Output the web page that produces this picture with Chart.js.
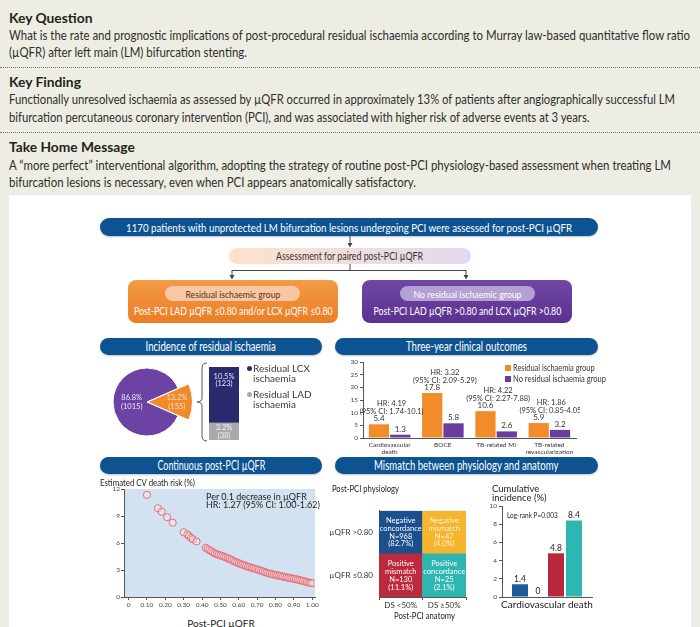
<!DOCTYPE html>
<html>
<head>
<meta charset="utf-8">
<title>Residual ischaemia after LM bifurcation PCI</title>
<script src="https://cdn.jsdelivr.net/npm/chart.js@4.4.1/dist/chart.umd.min.js"></script>
<style>
  body { margin: 0; background: #eeede3; font-family: Lato, "Open Sans", sans-serif; color: #231f20; }
  #page { position: relative; width: 700px; height: 627px; overflow: hidden; }
  .t { position: absolute; white-space: nowrap; }
  .t span { display: inline-block; transform-origin: left center; }
  .c, .pill, .box { display: flex; justify-content: center; align-items: center; white-space: nowrap; }
  .c span, .pill span, .box span { display: inline-block; flex: none; transform-origin: center center; }
  .head { font-weight: bold; font-size: 14px; line-height: 18px; left: 9px; }
  .body { font-size: 12.5px; line-height: 16px; left: 9px; color: #2d2d2d; }
  .dots { position: absolute; left: 0; width: 700px; height: 0; border-top: 1px dotted #707070; }
  #panel { position: absolute; left: 9px; top: 195px; width: 682px; height: 440px; background: #fff; }
  .pill { position: absolute; background: #0e5391; color: #fff; border-radius: 9px; box-shadow: 0 1px 2px rgba(0,0,0,0.25); }
  .box { position: absolute; border-radius: 8px; color: #fff; }
  canvas { position: absolute; }
  svg { position: absolute; left: 0; top: 0; }
  .small { font-size: 10px; color: #3a3a3a; line-height: 10px; }
  .dot { position: absolute; width: 5px; height: 5px; border-radius: 50%; }
  .sq { position: absolute; width: 6px; height: 6px; }
</style>
</head>
<body>
<div id="page">
  <div class="t head" style="top:9px"><span data-w="83">Key Question</span></div>
  <div class="t body" style="top:28px"><span id="q1" data-w="681">What is the rate and prognostic implications of post-procedural residual ischaemia according to Murray law-based quantitative flow ratio</span></div>
  <div class="t body" style="top:45px"><span data-ref="q1">(µQFR) after left main (LM) bifurcation stenting.</span></div>
  <div class="dots" style="top:67px"></div>
  <div class="t head" style="top:73px"><span data-w="72">Key Finding</span></div>
  <div class="t body" style="top:92px"><span id="f1" data-w="666">Functionally unresolved ischaemia as assessed by µQFR occurred in approximately 13% of patients after angiographically successful LM</span></div>
  <div class="t body" style="top:110px"><span data-ref="f1">bifurcation percutaneous coronary intervention (PCI), and was associated with higher risk of adverse events at 3 years.</span></div>
  <div class="dots" style="top:132px"></div>
  <div class="t head" style="top:138px"><span data-w="126">Take Home Message</span></div>
  <div class="t body" style="top:158px"><span id="h1" data-w="662">A “more perfect” interventional algorithm, adopting the strategy of routine post-PCI physiology-based assessment when treating LM</span></div>
  <div class="t body" style="top:175px"><span data-ref="h1">bifurcation lesions is necessary, even when PCI appears anatomically satisfactory.</span></div>

  <div id="panel"></div>

  <svg width="700" height="627">
    <g stroke="#444" stroke-width="1" fill="none">
      <line x1="350" y1="236" x2="350" y2="244"/>
      <line x1="350" y1="264" x2="350" y2="270"/>
      <line x1="232" y1="270.5" x2="466" y2="270.5"/>
      <line x1="232" y1="270" x2="232" y2="276"/>
      <line x1="466" y1="270" x2="466" y2="276"/>
      <path d="M207,363 Q202,363 202,368 L202,398 Q202,402 197,402 Q202,402 202,406 L202,436 Q202,441 207,441" stroke="#555"/>
    </g>
    <g fill="#444">
      <polygon points="347.5,243 352.5,243 350,247.5"/>
      <polygon points="229.5,275 234.5,275 232,279.5"/>
      <polygon points="463.5,275 468.5,275 466,279.5"/>
    </g>
  </svg>

  <div class="pill" style="left:100px;top:218px;width:498px;height:18px;font-size:11.5px"><span data-w="446">1170 patients with unprotected LM bifurcation lesions undergoing PCI were assessed for post-PCI µQFR</span></div>
  <div class="box" style="left:229px;top:248px;width:242px;height:16px;font-size:10.5px;color:#333;background:linear-gradient(90deg,#fde2cd,#e3d8ed)"><span data-w="147">Assessment for paired post-PCI µQFR</span></div>

  <div class="box" style="left:128px;top:280px;width:210px;height:43px;background:linear-gradient(#f39b46,#ec7d24)"></div>
  <div class="box" style="left:165px;top:286px;width:135px;height:15px;font-size:10px;color:#4e321e;background:#f9c8a2"><span data-w="95">Residual ischaemic group</span></div>
  <div class="t c" style="left:128px;width:210px;top:304px;height:14px;font-size:10.5px;color:#fff"><span data-w="199">Post-PCI LAD µQFR ≤0.80 and/or LCX µQFR ≤0.80</span></div>

  <div class="box" style="left:362px;top:280px;width:210px;height:43px;background:linear-gradient(#7046a6,#5b3190)"></div>
  <div class="box" style="left:400px;top:286px;width:135px;height:15px;font-size:10px;color:#fff;background:#b5a0d4"><span data-w="108">No residual ischaemic group</span></div>
  <div class="t c" style="left:362px;width:210px;top:304px;height:14px;font-size:10.5px;color:#fff"><span data-w="188">Post-PCI LAD µQFR &gt;0.80 and LCX µQFR &gt;0.80</span></div>

  <div class="pill" style="left:100px;top:338px;width:222px;height:17px;font-size:12.5px"><span data-w="130">Incidence of residual ischaemia</span></div>
  <div class="pill" style="left:335px;top:338px;width:263px;height:17px;font-size:12.5px"><span data-w="121">Three-year clinical outcomes</span></div>
  <div class="pill" style="left:100px;top:457px;width:222px;height:17px;font-size:12.5px"><span data-w="108">Continuous post-PCI µQFR</span></div>
  <div class="pill" style="left:335px;top:457px;width:263px;height:17px;font-size:12.5px"><span data-w="184">Mismatch between physiology and anatomy</span></div>

  <canvas id="pieChart" width="114" height="114" style="left:90px;top:345px"></canvas>
  <canvas id="siteChart" width="50" height="82" style="left:195px;top:362px"></canvas>
  <canvas id="outcomeChart" width="240" height="104" style="left:340px;top:356px"></canvas>
  <canvas id="riskChart" width="215" height="126" style="left:105px;top:484px"></canvas>
  <canvas id="matrixChart" width="142" height="112" style="left:328px;top:500px"></canvas>
  <canvas id="cumChart" width="121" height="115" style="left:479px;top:500px"></canvas>

  <!-- legends and axis titles -->
  <div class="dot" style="left:246.5px;top:365.5px;background:#2c2a6e"></div>
  <div class="t small" style="left:253px;top:363px">Residual LCX<br>ischaemia</div>
  <div class="dot" style="left:246.5px;top:391.5px;background:#a9a9ae"></div>
  <div class="t small" style="left:253px;top:389px">Residual LAD<br>ischaemia</div>

  <div class="sq" style="left:505px;top:365px;background:#f28b2a"></div>
  <div class="t" style="left:513px;top:362px;font-size:9.5px;line-height:12px;color:#333"><span data-w="82">Residual ischaemia group</span></div>
  <div class="sq" style="left:505px;top:376px;background:#6a3d9c"></div>
  <div class="t" style="left:513px;top:373px;font-size:9.5px;line-height:12px;color:#333"><span data-w="93">No residual ischaemia group</span></div>

  <div class="t" style="left:100px;top:477px;font-size:9.5px;line-height:12px;color:#222"><span data-w="95">Estimated CV death risk (%)</span></div>
  <div class="t" style="left:206px;top:493px;font-size:9px;line-height:7.5px;color:#222">Per 0.1 decrease in µQFR<br>HR: 1.27 (95% CI: 1.00-1.62)</div>
  <div class="t c" style="left:171px;width:100px;top:617px;height:12px;font-size:10px;color:#222"><span>Post-PCI µQFR</span></div>

  <div class="t" style="left:332px;top:482px;font-size:10px;line-height:12px;color:#222"><span data-w="67">Post-PCI physiology</span></div>
  <div class="t c" style="left:375px;width:100px;top:609px;height:12px;font-size:10px;color:#222"><span data-w="61">Post-PCI anatomy</span></div>

  <div class="t" style="left:492px;top:484px;font-size:9.5px;line-height:9px;color:#222">Cumulative<br>incidence (%)</div>
  <div class="t" style="left:507px;top:510px;font-size:8px;line-height:10px;color:#222"><span data-w="51">Log-rank P=0.003</span></div>
</div>

<script>
// ---- data ----
const incidenceGroups = ['No residual ischaemia', 'Residual ischaemia'];
const incidencePct = [86.8, 13.2];
const incidenceN = [1015, 155];

const residualSites = ['Residual LCX ischaemia', 'Residual LAD ischaemia'];
const residualSitePct = [10.5, 3.2];
const residualSiteN = [123, 38];

const outcomeNames = [['Cardiovascular', 'death'], 'BOCE', 'TB-related MI', ['TB-related', 'revascularization']];
const residualRates = [5.4, 17.8, 10.6, 5.9];
const noResidualRates = [1.3, 5.8, 2.6, 3.2];
const outcomeHR = ['HR: 4.19', 'HR: 3.32', 'HR: 4.22', 'HR: 1.86'];
const outcomeCI = ['(95% CI: 1.74-10.1)', '(95% CI: 2.09-5.29)', '(95% CI: 2.27-7.88)', '(95% CI: 0.85-4.05)'];

// estimated CV death risk
const qfrValues = [0.10, 0.16, 0.18, 0.21, 0.24, 0.30, 0.32, 0.33, 0.34, 0.35, 0.37,
  0.42, 0.43, 0.44, 0.45, 0.46, 0.47, 0.48, 0.49, 0.50, 0.51, 0.52, 0.53, 0.54, 0.55, 0.56, 0.57, 0.58, 0.59,
  0.60, 0.61, 0.62, 0.63, 0.64, 0.65, 0.66, 0.67, 0.68, 0.69, 0.70, 0.71, 0.72, 0.73, 0.74, 0.75, 0.76, 0.77,
  0.78, 0.79, 0.80, 0.81, 0.82, 0.83, 0.84, 0.85, 0.86, 0.87, 0.88, 0.89, 0.90, 0.91, 0.92, 0.93, 0.94, 0.95,
  0.96, 0.97, 0.98, 0.99, 1.00];
const cvRisk = [11.34, 9.86, 9.47, 8.87, 8.26, 7.19, 6.94, 6.75, 6.56, 6.42, 6.17,
  5.46, 5.33, 5.21, 5.09, 4.96, 4.84, 4.76, 4.69, 4.62, 4.55, 4.47, 4.39, 4.30, 4.22, 4.12, 4.02, 3.93, 3.83,
  3.74, 3.67, 3.59, 3.52, 3.44, 3.37, 3.31, 3.25, 3.19, 3.12, 3.06, 3.00, 2.93, 2.86, 2.78, 2.71, 2.64, 2.59,
  2.55, 2.50, 2.45, 2.41, 2.36, 2.32, 2.27, 2.23, 2.19, 2.14, 2.10, 2.06, 2.02, 1.98, 1.93, 1.88, 1.83, 1.78,
  1.73, 1.67, 1.61, 1.58, 1.54];
const qfrTicks = [0, 0.1, 0.2, 0.3, 0.4, 0.5, 0.6, 0.7, 0.8, 0.9, 1.0];

const anatomyCats = ['DS <50%', 'DS ≥50%'];
const physiologyCats = ['µQFR ≤0.80', 'µQFR >0.80'];
const cellUnits = [1, 1];
const matrixTitles = [[['Positive', 'mismatch'], ['Positive', 'concordance']],
                      [['Negative', 'concordance'], ['Negative', 'mismatch']]];
const matrixN = [[130, 25], [968, 47]];
const matrixPct = [[11.1, 2.1], [82.7, 4.0]];

const cumCategory = ['Cardiovascular death'];
const cumGroups = ['Negative concordance', 'Negative mismatch', 'Positive mismatch', 'Positive concordance'];
const cumValues = [1.4, 0, 4.8, 8.4];

// ---- text fitting ----
function fitText() {
  const scales = {};
  document.querySelectorAll('[data-w]').forEach(el => {
    const s = (+el.dataset.w) / el.offsetWidth;
    el.style.transform = 'scaleX(' + s + ')';
    if (el.id) scales[el.id] = s;
  });
  document.querySelectorAll('[data-ref]').forEach(el => {
    el.style.transform = 'scaleX(' + scales[el.dataset.ref] + ')';
  });
}
fitText();
document.fonts.ready.then(fitText);

// ---- charts ----
const FONT = 'Lato, "Open Sans", sans-serif';
Chart.defaults.font.family = FONT;
Chart.defaults.color = '#333';
Chart.defaults.animation = false;
Chart.defaults.responsive = false;
Chart.defaults.plugins.legend.display = false;
Chart.defaults.plugins.tooltip.enabled = false;

const axisGrey = '#555';

// pie: incidence (the residual slice is drawn pulled out and enlarged)
const pieOffsets = [0, 2];
const pieRadiusScale = [1, 1.32];
const pieLabelPos = [0.45, 0.62];
new Chart(document.getElementById('pieChart'), {
  type: 'pie',
  data: {
    labels: incidenceGroups,
    datasets: [{ data: incidencePct, backgroundColor: ['#6c43a4', '#f08a2b'], borderColor: '#fff', borderWidth: 1, offset: pieOffsets }]
  },
  options: {
    rotation: 90 - 360 * (incidencePct[0] + incidencePct[1] / 2) / 100,
    radius: 34
  },
  plugins: [{
    id: 'pieShape',
    afterDatasetUpdate(chart) {
      chart.getDatasetMeta(0).data.forEach((arc, i) => { arc.outerRadius *= pieRadiusScale[i]; });
    },
    afterDatasetsDraw(chart) {
      const ctx = chart.ctx;
      chart.getDatasetMeta(0).data.forEach((arc, i) => {
        const p = arc.getProps(['x', 'y', 'startAngle', 'endAngle', 'outerRadius'], true);
        const mid = (p.startAngle + p.endAngle) / 2;
        const r = pieOffsets[i] + p.outerRadius * pieLabelPos[i];
        const x = p.x + Math.cos(mid) * r, y = p.y + Math.sin(mid) * r;
        ctx.save();
        ctx.fillStyle = i ? '#fde3c8' : '#efe8f7';
        ctx.font = '7.5px ' + FONT;
        ctx.textAlign = 'center';
        ctx.textBaseline = 'middle';
        ctx.fillText(incidencePct[i].toFixed(1) + '%', x, y - 4);
        ctx.fillText('(' + incidenceN[i] + ')', x, y + 4.5);
        ctx.restore();
      });
    }
  }]
});

// stacked bar: LCX / LAD
new Chart(document.getElementById('siteChart'), {
  type: 'bar',
  data: {
    labels: [''],
    datasets: [
      { label: residualSites[1], data: [residualSitePct[1]], backgroundColor: '#a9a9ae' },
      { label: residualSites[0], data: [residualSitePct[0]], backgroundColor: '#2c2a6e' }
    ]
  },
  options: {
    layout: { padding: { left: 14, right: 6, top: 5, bottom: 4 } },
    datasets: { bar: { barPercentage: 1, categoryPercentage: 1 } },
    scales: {
      x: { display: false, stacked: true },
      y: { display: false, stacked: true, min: 0, max: residualSitePct[0] + residualSitePct[1] }
    }
  },
  plugins: [{
    id: 'siteLabels',
    afterDatasetsDraw(chart) {
      const ctx = chart.ctx;
      ctx.save();
      ctx.font = '7.5px ' + FONT;
      ctx.textAlign = 'center';
      ctx.textBaseline = 'middle';
      [1, 0].forEach((siteIdx, d) => {
        const bar = chart.getDatasetMeta(d).data[0];
        const y0 = Math.min((bar.y + bar.base) / 2, bar.y + 13);
        ctx.fillStyle = siteIdx === 0 ? '#e6e4f4' : '#f5f5f5';
        ctx.fillText(residualSitePct[siteIdx].toFixed(1) + '%', bar.x, y0 - 3.5);
        ctx.fillText('(' + residualSiteN[siteIdx] + ')', bar.x, y0 + 4);
      });
      ctx.restore();
    }
  }]
});

// grouped bar: three-year outcomes
new Chart(document.getElementById('outcomeChart'), {
  type: 'bar',
  data: {
    labels: outcomeNames,
    datasets: [
      { label: 'Residual ischaemia group', data: residualRates, backgroundColor: '#f28b2a' },
      { label: 'No residual ischaemia group', data: noResidualRates, backgroundColor: '#6a3d9c' }
    ]
  },
  options: {
    layout: { padding: { top: 6, right: 4 } },
    datasets: { bar: { categoryPercentage: 0.8, barPercentage: 0.95 } },
    scales: {
      x: {
        grid: { display: false, drawTicks: false }, border: { color: axisGrey },
        ticks: { font: { size: 6.5, lineHeight: 1.15 }, color: '#333', padding: 3, maxRotation: 0, autoSkip: false },
        afterFit(s) { s.height = 22; }
      },
      y: {
        min: 0, max: 30,
        ticks: { stepSize: 5, font: { size: 6.5 }, color: '#444', padding: 2 },
        grid: { drawOnChartArea: false, tickLength: 3, color: axisGrey }, border: { color: axisGrey },
        afterFit(s) { s.width = 23; }
      }
    }
  },
  plugins: [{
    id: 'outcomeLabels',
    afterDatasetsDraw(chart) {
      const ctx = chart.ctx;
      ctx.save();
      ctx.fillStyle = '#333';
      ctx.textAlign = 'center';
      ctx.textBaseline = 'bottom';
      ctx.font = '8px ' + FONT;
      chart.data.datasets.forEach((ds, d) => {
        chart.getDatasetMeta(d).data.forEach((bar, i) => {
          ctx.fillText(ds.data[i].toFixed(1), bar.x, bar.y - 1.5);
        });
      });
      ctx.font = '7.5px ' + FONT;
      outcomeHR.forEach((hr, i) => {
        const top = chart.scales.y.getPixelForValue(Math.max(residualRates[i], noResidualRates[i]));
        const cx = chart.scales.x.getPixelForValue(i) + 2;
        ctx.fillText(hr, cx, top - 16.5);
        ctx.fillText(outcomeCI[i], cx, top - 9);
      });
      ctx.restore();
    }
  }]
});

// scatter: continuous post-PCI uQFR
new Chart(document.getElementById('riskChart'), {
  type: 'scatter',
  data: {
    datasets: [{
      data: qfrValues.map((x, i) => ({ x: x, y: cvRisk[i] })),
      pointRadius: 3.6, pointBorderWidth: 1,
      borderColor: '#e2707c', backgroundColor: 'rgba(255,235,238,0.35)'
    }]
  },
  options: {
    layout: { padding: { top: 4, right: 5 } },
    scales: {
      x: {
        min: -0.025, max: 1.015,
        afterBuildTicks(s) { s.ticks = qfrTicks.map(v => ({ value: v })); },
        ticks: { callback: v => v === 0 ? '0' : v.toFixed(2), font: { size: 6.5 }, color: '#444', padding: 1, maxRotation: 0, autoSkip: false },
        grid: { drawOnChartArea: false, tickLength: 3, color: axisGrey }, border: { color: axisGrey },
        afterFit(s) { s.height = 13; }
      },
      y: {
        min: 0, max: 12,
        ticks: { stepSize: 3, font: { size: 6.5 }, color: '#444', padding: 1 },
        grid: { drawOnChartArea: false, tickLength: 3, color: axisGrey }, border: { color: axisGrey },
        afterFit(s) { s.width = 19; }
      }
    }
  },
  plugins: [{
    id: 'plotBg',
    beforeDraw(chart) {
      const { ctx, chartArea: a } = chart;
      ctx.save();
      ctx.fillStyle = '#d3e2f0';
      ctx.fillRect(a.left, a.top, a.width, a.height);
      ctx.restore();
    }
  }]
});

// 2x2 matrix: physiology vs anatomy
const matrixColors = [['#bd2a40', '#2fb6b1'], ['#1b4f8e', '#f6b52e']];
new Chart(document.getElementById('matrixChart'), {
  type: 'bar',
  data: {
    labels: anatomyCats,
    datasets: physiologyCats.map((p, r) => ({ label: p, data: cellUnits, backgroundColor: matrixColors[r] }))
  },
  options: {
    layout: { padding: { top: 5, right: 4 } },
    datasets: { bar: { barPercentage: 1, categoryPercentage: 1 } },
    scales: {
      x: {
        stacked: true,
        grid: { offset: true, drawOnChartArea: false, tickLength: 3, color: axisGrey }, border: { color: axisGrey },
        ticks: { font: { size: 8 }, color: '#333', padding: 1 },
        afterFit(s) { s.height = 15; }
      },
      y: {
        stacked: true, min: 0, max: 2,
        afterBuildTicks(s) { s.ticks = [{ value: 0.5 }, { value: 1.5 }]; },
        ticks: { callback: (v, i) => physiologyCats[i], font: { size: 8 }, color: '#333', padding: 6 },
        grid: { display: false, drawTicks: false }, border: { color: axisGrey },
        afterFit(s) { s.width = 51; }
      }
    }
  },
  plugins: [{
    id: 'cellText',
    afterDatasetsDraw(chart) {
      const ctx = chart.ctx;
      ctx.save();
      ctx.font = '7.5px ' + FONT;
      ctx.textAlign = 'center';
      ctx.textBaseline = 'middle';
      physiologyCats.forEach((p, r) => {
        chart.getDatasetMeta(r).data.forEach((bar, i) => {
          const lines = matrixTitles[r][i].concat(['N=' + matrixN[r][i], '(' + matrixPct[r][i].toFixed(1) + '%)']);
          const cy = (bar.y + bar.base) / 2;
          ctx.fillStyle = (r === 1 && i === 1) ? '#fdf0d0' : '#ffffff';
          lines.forEach((ln, k) => ctx.fillText(ln, bar.x, cy + (k - 1.5) * 7.8));
        });
      });
      ctx.restore();
    }
  }]
});

// cumulative incidence of CV death
const cumColors = ['#1f5b9a', '#f6b52e', '#b8273c', '#2cb7b2'];
new Chart(document.getElementById('cumChart'), {
  type: 'bar',
  data: {
    labels: cumCategory,
    datasets: cumGroups.map((g, k) => ({ label: g, data: [cumValues[k]], backgroundColor: cumColors[k] }))
  },
  options: {
    layout: { padding: { top: 6, right: 8 } },
    datasets: { bar: { categoryPercentage: 0.8, barPercentage: 0.89 } },
    scales: {
      x: {
        grid: { display: false, drawTicks: false }, border: { color: axisGrey },
        ticks: { font: { size: 10 }, color: '#222', padding: 2 },
        afterFit(s) { s.height = 18; }
      },
      y: {
        min: 0, max: 10,
        ticks: { stepSize: 2, font: { size: 6.5 }, color: '#444', padding: 2 },
        grid: { drawOnChartArea: false, tickLength: 3, color: axisGrey }, border: { color: axisGrey },
        afterFit(s) { s.width = 23; }
      }
    }
  },
  plugins: [{
    id: 'cumLabels',
    afterDatasetsDraw(chart) {
      const ctx = chart.ctx;
      ctx.save();
      ctx.font = '8.5px ' + FONT;
      ctx.fillStyle = '#222';
      ctx.textAlign = 'center';
      ctx.textBaseline = 'bottom';
      chart.data.datasets.forEach((ds, d) => {
        const bar = chart.getDatasetMeta(d).data[0];
        const v = ds.data[0];
        ctx.fillText(v === 0 ? '0' : v.toFixed(1), bar.x, bar.y - 1);
      });
      ctx.restore();
    }
  }]
});
</script>
</body>
</html>
